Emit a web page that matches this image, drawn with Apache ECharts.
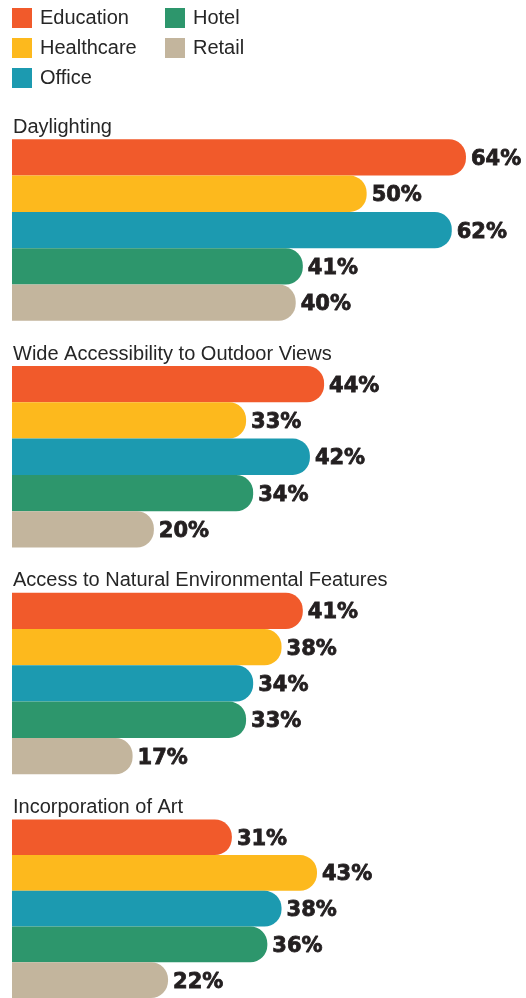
<!DOCTYPE html>
<html>
<head>
<meta charset="utf-8">
<script src="https://cdn.jsdelivr.net/npm/echarts@6/dist/echarts.min.js"></script>
<style>
html,body{margin:0;padding:0;background:#fff;}
#chart{width:526px;height:998px;}
</style>
</head>
<body>
<div id="chart"></div>
<script>
const sectors = ['Education', 'Healthcare', 'Office', 'Hotel', 'Retail'];
const colors = ['#F15A2B', '#FDB91D', '#1C9AB0', '#2D966C', '#C3B59D'];
const groupTitles = [
  'Daylighting',
  'Wide Accessibility to Outdoor Views',
  'Access to Natural Environmental Features',
  'Incorporation of Art'
];
const daylighting = [64, 50, 62, 41, 40];
const outdoorViews = [44, 33, 42, 34, 20];
const naturalFeatures = [41, 38, 34, 33, 17];
const art = [31, 43, 38, 36, 22];
const groupValues = [daylighting, outdoorViews, naturalFeatures, art];

const chart = echarts.init(document.getElementById('chart'));

const firstBarTop = 139.3;
const groupStride = 226.7;
const barH = 36.3;
const gridLeft = 12;
const xMax = 70;
const gridWidth = 496.5;
const textColor = '#231F20';

const grids = [], xAxes = [], yAxes = [], series = [], titles = [];
groupTitles.forEach((t, gi) => {
  const top = firstBarTop + gi * groupStride;
  grids.push({ left: gridLeft, top: top, width: gridWidth, height: barH * 5 });
  xAxes.push({ type: 'value', gridIndex: gi, min: 0, max: xMax, show: false });
  yAxes.push({ type: 'category', gridIndex: gi, data: sectors, inverse: true, show: false });
  titles.push({
    text: t, left: 8, top: top - 27,
    textStyle: { fontFamily: 'Liberation Sans', fontSize: 20, fontWeight: 'normal', color: '#262626' }
  });
  sectors.forEach((s, si) => {
    series.push({
      type: 'bar', name: s, xAxisIndex: gi, yAxisIndex: gi, stack: 'g' + gi,
      barWidth: '100%',
      data: sectors.map((_, k) => k === si ? groupValues[gi][si] : null),
      itemStyle: { color: colors[si], borderRadius: [0, 17, 17, 0] },
      label: {
        show: true, position: 'right', distance: 5, offset: [0, 2], formatter: '{c}%',
        fontFamily: 'DejaVu Sans', fontWeight: 'bold', fontSize: 21, color: textColor,
        textBorderColor: textColor, textBorderWidth: 0.8
      }
    });
  });
});

const legendText = { fontFamily: 'Liberation Sans', fontSize: 20, color: '#262626', padding: [0, 0, 0, 3] };
chart.setOption({
  animation: false,
  backgroundColor: '#fff',
  color: colors,
  title: titles,
  legend: [
    { data: sectors.slice(0, 3), orient: 'vertical', left: 12, top: 8, padding: 0,
      itemWidth: 20, itemHeight: 20, itemGap: 10, icon: 'rect', textStyle: legendText },
    { data: sectors.slice(3), orient: 'vertical', left: 165, top: 8, padding: 0,
      itemWidth: 20, itemHeight: 20, itemGap: 10, icon: 'rect', textStyle: legendText }
  ],
  grid: grids,
  xAxis: xAxes,
  yAxis: yAxes,
  series: series
});
</script>
</body>
</html>
